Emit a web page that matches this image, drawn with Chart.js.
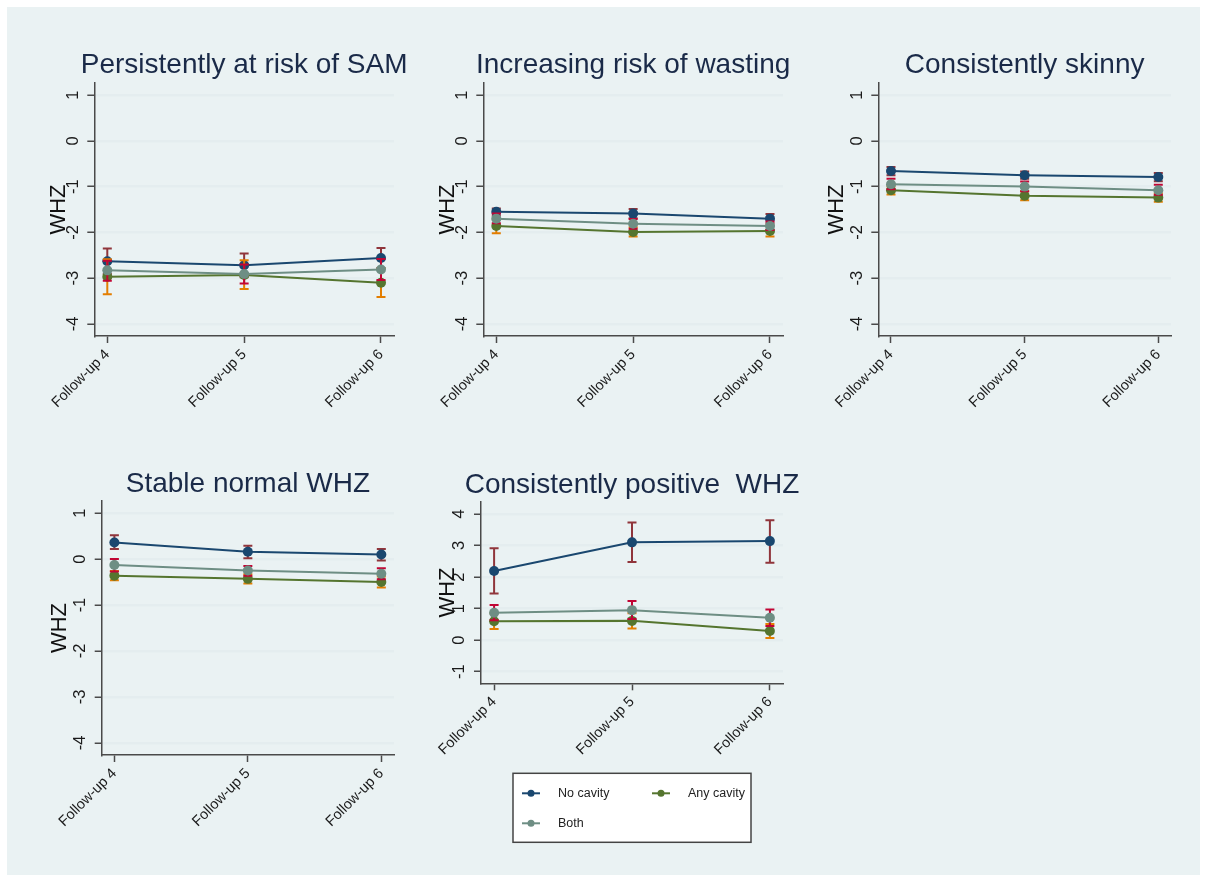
<!DOCTYPE html>
<html>
<head>
<meta charset="utf-8">
<script src="https://cdn.jsdelivr.net/npm/chart.js@4.4.1/dist/chart.umd.min.js"></script>
<style>
    body { margin: 0; width: 1205px; height: 880px; background: #fff; position: relative; overflow: hidden; }
    #frame { position: absolute; left: 7px; top: 7px; width: 1193px; height: 868px; background: #eaf2f3; }
    canvas { position: absolute; }
</style>
</head>
<body>
<div id="frame"></div>
<canvas id="p1"></canvas>
<canvas id="p2"></canvas>
<canvas id="p3"></canvas>
<canvas id="p4"></canvas>
<canvas id="p5"></canvas>
<script>
// ---- data ----
const followUps = ['Follow-up 4', 'Follow-up 5', 'Follow-up 6'];
const xPos = [4, 5, 6];
const seriesNames = ['No cavity', 'Any cavity', 'Both'];
const yTicksLow = [-4, -3, -2, -1, 0, 1];
const yTicksHigh = [-1, 0, 1, 2, 3, 4];

// Persistently at risk of SAM
const samNoCav = [-2.63, -2.72, -2.56], samNoCavLo = [-2.91, -2.98, -2.78], samNoCavHi = [-2.35, -2.46, -2.34];
const samAny = [-2.97, -2.93, -3.10], samAnyLo = [-3.35, -3.24, -3.41], samAnyHi = [-2.59, -2.61, -2.79];
const samBoth = [-2.83, -2.91, -2.81], samBothLo = [-3.06, -3.12, -3.04], samBothHi = [-2.62, -2.70, -2.58];

// Increasing risk of wasting
const wasNoCav = [-1.55, -1.59, -1.70], wasNoCavLo = [-1.63, -1.69, -1.80], wasNoCavHi = [-1.48, -1.49, -1.60];
const wasAny = [-1.86, -1.99, -1.97], wasAnyLo = [-2.02, -2.09, -2.09], wasAnyHi = [-1.70, -1.89, -1.85];
const wasBoth = [-1.70, -1.81, -1.86], wasBothLo = [-1.80, -1.92, -1.95], wasBothHi = [-1.59, -1.71, -1.76];

// Consistently skinny
const sknNoCav = [-0.66, -0.75, -0.79], sknNoCavLo = [-0.75, -0.83, -0.88], sknNoCavHi = [-0.57, -0.67, -0.70];
const sknAny = [-1.08, -1.20, -1.24], sknAnyLo = [-1.17, -1.30, -1.33], sknAnyHi = [-0.99, -1.10, -1.15];
const sknBoth = [-0.95, -1.00, -1.08], sknBothLo = [-1.06, -1.10, -1.18], sknBothHi = [-0.83, -0.89, -0.96];

// Stable normal WHZ
const stbNoCav = [0.36, 0.16, 0.10], stbNoCavLo = [0.22, 0.02, -0.03], stbNoCavHi = [0.52, 0.29, 0.22];
const stbAny = [-0.36, -0.43, -0.50], stbAnyLo = [-0.46, -0.53, -0.62], stbAnyHi = [-0.26, -0.33, -0.38];
const stbBoth = [-0.13, -0.25, -0.32], stbBothLo = [-0.27, -0.36, -0.44], stbBothHi = [0.00, -0.15, -0.20];

// Consistently positive WHZ
const posNoCav = [2.19, 3.10, 3.14], posNoCavLo = [1.48, 2.48, 2.45], posNoCavHi = [2.91, 3.73, 3.80];
const posAny = [0.60, 0.61, 0.29], posAnyLo = [0.35, 0.37, 0.07], posAnyHi = [0.85, 0.85, 0.51];
const posBoth = [0.87, 0.95, 0.71], posBothLo = [0.63, 0.67, 0.45], posBothHi = [1.11, 1.24, 0.97];

// ---- styling ----
const FONT = '"Liberation Sans", Arial, Helvetica, sans-serif';
const lineColors = ['#1a476f', '#55752f', '#6e8e84'];
const errColors = ['#90353b', '#e37e00', '#c10534'];
const axisColor = '#4a4a4a';
const gridColor = '#e4edef';
const TITLE_SIZE = 28;
const WHZ_SIZE = 22;

Chart.defaults.font.family = FONT;

// layout of each panel on the page (canvas box + where the plot region sits)
const panels = [
    { id: 'p1', title: 'Persistently at risk of SAM', left: 20, top: 30, width: 400, height: 395, plotLeft: 94.3, plotRight: 394, plotTop: 83, plotBottom: 336, whzX: 59, titleBase: 73.3, yRange: [-4.265, 1.265], yTicks: yTicksLow,
      series: [[samNoCav, samNoCavLo, samNoCavHi], [samAny, samAnyLo, samAnyHi], [samBoth, samBothLo, samBothHi]] },
    { id: 'p2', title: 'Increasing risk of wasting', left: 410, top: 30, width: 400, height: 395, plotLeft: 483.3, plotRight: 783, plotTop: 83, plotBottom: 336, whzX: 448, titleBase: 73.3, yRange: [-4.265, 1.265], yTicks: yTicksLow,
      series: [[wasNoCav, wasNoCavLo, wasNoCavHi], [wasAny, wasAnyLo, wasAnyHi], [wasBoth, wasBothLo, wasBothHi]] },
    { id: 'p3', title: 'Consistently skinny', left: 800, top: 30, width: 390, height: 395, plotLeft: 878.3, plotRight: 1171, plotTop: 83, plotBottom: 336, whzX: 836.7, titleBase: 73.3, yRange: [-4.265, 1.265], yTicks: yTicksLow,
      series: [[sknNoCav, sknNoCavLo, sknNoCavHi], [sknAny, sknAnyLo, sknAnyHi], [sknBoth, sknBothLo, sknBothHi]] },
    { id: 'p4', title: 'Stable normal WHZ', left: 20, top: 450, width: 390, height: 400, plotLeft: 101.7, plotRight: 394, plotTop: 501, plotBottom: 755, whzX: 60, titleBase: 492.3, yRange: [-4.265, 1.265], yTicks: yTicksLow,
      series: [[stbNoCav, stbNoCavLo, stbNoCavHi], [stbAny, stbAnyLo, stbAnyHi], [stbBoth, stbBothLo, stbBothHi]] },
    { id: 'p5', title: 'Consistently positive  WHZ', left: 410, top: 450, width: 405, height: 410, plotLeft: 481, plotRight: 783, plotTop: 501.7, plotBottom: 683.3, whzX: 448, titleBase: 492.7, yRange: [-1.37, 4.39], yTicks: yTicksHigh, legend: true,
      series: [[posNoCav, posNoCavLo, posNoCavHi], [posAny, posAnyLo, posAnyHi], [posBoth, posBothLo, posBothHi]] }
];

// panel heading centred over the plot region; allowed to run wider than the plot like the original
const panelTitle = {
    id: 'panelTitle',
    afterDraw(chart, args, opts) {
        const ctx = chart.ctx;
        const area = chart.chartArea;
        ctx.save();
        ctx.font = TITLE_SIZE + 'px ' + FONT;
        ctx.fillStyle = '#1a2a48';
        ctx.textAlign = 'center';
        ctx.textBaseline = 'alphabetic';
        ctx.fillText(opts.text, (area.left + area.right) / 2, opts.baseline);
        ctx.restore();
    }
};

// capped CI bars, drawn right before their own series so the stacking follows the original
const errorBars = {
    id: 'errorBars',
    beforeDatasetDraw(chart, args) {
        const ds = chart.data.datasets[args.index];
        const yScale = chart.scales.y;
        const ctx = chart.ctx;
        ctx.save();
        ctx.strokeStyle = ds.errColor;
        ctx.lineWidth = 2;
        args.meta.data.forEach((pt, i) => {
            const hi = yScale.getPixelForValue(ds.errHi[i]);
            const lo = yScale.getPixelForValue(ds.errLo[i]);
            ctx.beginPath();
            ctx.moveTo(pt.x, hi); ctx.lineTo(pt.x, lo);
            ctx.moveTo(pt.x - 4.5, hi); ctx.lineTo(pt.x + 4.5, hi);
            ctx.moveTo(pt.x - 4.5, lo); ctx.lineTo(pt.x + 4.5, lo);
            ctx.stroke();
        });
        ctx.restore();
    }
};

// boxed two-column legend under the last panel
const boxLegend = {
    id: 'boxLegend',
    afterDraw(chart) {
        const ctx = chart.ctx;
        const area = chart.chartArea;
        const w = 238, h = 69;
        const left = (area.left + area.right) / 2 - w / 2;
        const top = area.bottom + 90;
        ctx.save();
        ctx.fillStyle = '#fff';
        ctx.fillRect(left, top, w, h);
        ctx.strokeStyle = '#444';
        ctx.lineWidth = 1.5;
        ctx.strokeRect(left, top, w, h);
        ctx.font = '12.5px ' + FONT;
        ctx.textBaseline = 'middle';
        chart.data.datasets.forEach((ds, i) => {
            const kx = left + 9 + (i % 2) * 130;
            const ky = top + 20 + Math.floor(i / 2) * 30;
            ctx.strokeStyle = ds.borderColor;
            ctx.lineWidth = 2;
            ctx.beginPath();
            ctx.moveTo(kx, ky); ctx.lineTo(kx + 18, ky);
            ctx.stroke();
            ctx.fillStyle = ds.borderColor;
            ctx.beginPath();
            ctx.arc(kx + 9, ky, 3.5, 0, Math.PI * 2);
            ctx.fill();
            ctx.fillStyle = '#222';
            ctx.fillText(ds.label, kx + 36, ky);
        });
        ctx.restore();
    }
};

function buildPanel(p) {
    const canvas = document.getElementById(p.id);
    canvas.width = p.width;
    canvas.height = p.height;
    canvas.style.left = p.left + 'px';
    canvas.style.top = p.top + 'px';

    const yWidth = p.plotLeft - p.left;
    const xHeight = p.top + p.height - p.plotBottom;

    const datasets = p.series.map(([mean, lo, hi], k) => ({
        label: seriesNames[k],
        data: xPos.map((x, i) => ({ x: x, y: mean[i] })),
        errLo: lo,
        errHi: hi,
        errColor: errColors[k],
        borderColor: lineColors[k],
        backgroundColor: lineColors[k],
        borderWidth: 2,
        pointRadius: 5,
        pointBorderWidth: 0,
        pointBackgroundColor: lineColors[k],
        tension: 0,
        order: 3 - k
    }));

    const plugins = [panelTitle, errorBars];
    if (p.legend) plugins.push(boxLegend);

    return new Chart(canvas, {
        type: 'line',
        data: { datasets: datasets },
        options: {
            responsive: false,
            animation: false,
            layout: { padding: { left: 0, top: p.plotTop - p.top, right: p.left + p.width - p.plotRight, bottom: 0 } },
            plugins: {
                legend: { display: false },
                tooltip: { enabled: false },
                title: { display: false },
                panelTitle: { text: p.title, baseline: p.titleBase - p.top }
            },
            scales: {
                x: {
                    type: 'linear',
                    min: 3.905,
                    max: 6.095,
                    afterBuildTicks: s => { s.ticks = xPos.map(v => ({ value: v })); },
                    afterFit: s => { s.height = xHeight; s.paddingLeft = 0; s.paddingRight = 0; },
                    ticks: {
                        autoSkip: false,
                        minRotation: 45,
                        maxRotation: 45,
                        padding: 3,
                        color: '#1a1a1a',
                        font: { size: 14.5 },
                        callback: (v, i) => followUps[i]
                    },
                    grid: { drawOnChartArea: false, tickColor: axisColor, tickLength: 7, tickWidth: 1.5 },
                    border: { color: axisColor, width: 1.5 }
                },
                y: {
                    type: 'linear',
                    min: p.yRange[0],
                    max: p.yRange[1],
                    afterBuildTicks: s => { s.ticks = p.yTicks.map(v => ({ value: v })); },
                    afterFit: s => { s.width = yWidth; s.paddingTop = 0; s.paddingBottom = 0; },
                    ticks: {
                        minRotation: 90,
                        maxRotation: 90,
                        crossAlign: 'center',
                        padding: 7,
                        color: '#1a1a1a',
                        font: { size: 16.5 },
                        callback: v => String(v)
                    },
                    grid: { color: gridColor, lineWidth: 2.5, tickColor: axisColor, tickLength: 7, tickWidth: 1.5 },
                    border: { color: axisColor, width: 1.5 },
                    title: {
                        display: true,
                        text: 'WHZ',
                        color: '#111',
                        font: { size: WHZ_SIZE },
                        padding: { top: p.whzX - p.left - WHZ_SIZE * 0.6, bottom: 0 }
                    }
                }
            }
        },
        plugins: plugins
    });
}

panels.forEach(buildPanel);
</script>
</body>
</html>
